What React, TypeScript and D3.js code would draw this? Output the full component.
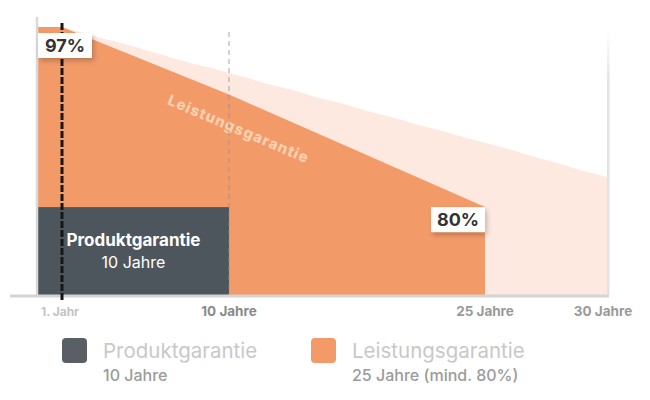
import { useEffect, useRef } from 'react'
import * as d3 from 'd3'

// years on the x axis
const years = [0, 1, 2, 3, 4, 5, 6, 7, 8, 9, 10, 11, 12, 13, 14, 15, 16, 17, 18, 19, 20, 21, 22, 23, 24, 25, 26, 27, 28, 29, 30]

// Leistungsgarantie (guaranteed output, %) for years 0..25
const warrantyValues = [97, 97, 96.3, 95.6, 94.9, 94.2, 93.5, 92.8, 92.1, 91.4, 90.7, 90.0, 89.3, 88.6, 87.9, 87.2, 86.5, 85.8, 85.1, 84.4, 83.7, 83.0, 82.3, 81.6, 80.9, 80.2]

// expected output (light area, %) for years 0..30
const expectedValues = [97, 97, 96.5, 96.0, 95.6, 95.1, 94.6, 94.1, 93.6, 93.2, 92.7, 92.3, 91.8, 91.4, 91.0, 90.5, 90.1, 89.7, 89.2, 88.8, 88.4, 87.9, 87.5, 87.1, 86.6, 86.2, 85.6, 84.9, 84.3, 83.6, 83.0]

const tickYears = [1, 10, 25, 30]
const tickLabels = ['1. Jahr', '10 Jahre', '25 Jahre', '30 Jahre']
const productYears = 10
const productLevel = 80.2

const FONT = "Inter, 'Noto Sans', sans-serif"
const ORANGE = '#f39a69'
const ORANGE_LIGHT = '#fde9df'
const SLATE = '#4e565d'

export default function App() {
  const svgRef = useRef<SVGSVGElement>(null)

  useEffect(() => {
    if (!svgRef.current) return
    d3.select(svgRef.current).selectAll('*').remove()

    const svg = d3.select(svgRef.current)

    const x = d3.scaleLinear()
      .domain([0, 1, 10, 25, 30])
      .range([38, 62, 229, 485, 607])

    const y = d3.scaleLinear()
      .domain([72, 97])
      .range([295, 27])

    const baseY = y(72)

    const defs = svg.append('defs')
    const shadow = defs.append('filter')
      .attr('id', 'shadow')
      .attr('x', '-30%').attr('y', '-30%')
      .attr('width', '160%').attr('height', '180%')
    shadow.append('feDropShadow')
      .attr('dx', 2).attr('dy', 3)
      .attr('stdDeviation', 2.5)
      .attr('flood-color', '#000')
      .attr('flood-opacity', 0.22)

    const fade = defs.append('linearGradient')
      .attr('id', 'fade')
      .attr('x1', 0).attr('y1', 0).attr('x2', 0).attr('y2', 1)
    fade.append('stop').attr('offset', '0%').attr('stop-color', '#e2e2e2').attr('stop-opacity', 0)
    fade.append('stop').attr('offset', '20%').attr('stop-color', '#e2e2e2').attr('stop-opacity', 1)
    fade.append('stop').attr('offset', '100%').attr('stop-color', '#e2e2e2').attr('stop-opacity', 1)

    const area = d3.area<number>()
      .x((_, i) => x(years[i]))
      .y0(baseY)
      .y1(d => y(d))

    // Expected output (light)
    svg.append('path')
      .datum(expectedValues)
      .attr('d', area)
      .attr('fill', ORANGE_LIGHT)

    // Leistungsgarantie
    svg.append('path')
      .datum(warrantyValues)
      .attr('d', area)
      .attr('fill', ORANGE)

    // Produktgarantie box
    svg.append('rect')
      .attr('x', x(0))
      .attr('y', y(productLevel))
      .attr('width', x(productYears) - x(0))
      .attr('height', baseY - y(productLevel))
      .attr('fill', SLATE)

    svg.append('text')
      .attr('x', (x(0) + x(productYears)) / 2)
      .attr('y', 246)
      .attr('text-anchor', 'middle')
      .attr('fill', '#fff')
      .attr('font-family', FONT)
      .attr('font-size', '17px')
      .attr('font-weight', 'bold')
      .text('Produktgarantie')

    svg.append('text')
      .attr('x', (x(0) + x(productYears)) / 2)
      .attr('y', 268)
      .attr('text-anchor', 'middle')
      .attr('fill', '#fff')
      .attr('font-family', FONT)
      .attr('font-size', '16px')
      .text('10 Jahre')

    // Rotated label
    svg.append('text')
      .attr('transform', 'translate(238,130) rotate(23)')
      .attr('text-anchor', 'middle')
      .attr('dominant-baseline', 'middle')
      .attr('fill', '#fdd1b0')
      .attr('font-family', FONT)
      .attr('font-size', '15px')
      .attr('font-weight', 800)
      .attr('letter-spacing', '1px')
      .text('Leistungsgarantie')

    // left axis line
    svg.append('line')
      .attr('x1', x(0) - 1).attr('x2', x(0) - 1)
      .attr('y1', 17).attr('y2', baseY)
      .attr('stroke', '#d9d9d9')
      .attr('stroke-width', 2.5)

    // right edge line
    svg.append('rect')
      .attr('x', x(30))
      .attr('y', 30)
      .attr('width', 2.5)
      .attr('height', baseY - 30)
      .attr('fill', 'url(#fade)')

    // 10 year dashed guide
    svg.append('line')
      .attr('x1', x(10)).attr('x2', x(10))
      .attr('y1', 32).attr('y2', baseY)
      .attr('stroke', '#8f8f8f')
      .attr('stroke-opacity', 0.4)
      .attr('stroke-width', 2)
      .attr('stroke-dasharray', '5 4')

    // baseline
    svg.append('line')
      .attr('x1', 10).attr('x2', x(30) + 2)
      .attr('y1', baseY + 1).attr('y2', baseY + 1)
      .attr('stroke', '#d4d4d4')
      .attr('stroke-width', 3)

    // 1st year dashed marker
    svg.append('line')
      .attr('x1', x(1)).attr('x2', x(1))
      .attr('y1', 23).attr('y2', baseY + 6)
      .attr('stroke', '#161616')
      .attr('stroke-width', 3)
      .attr('stroke-dasharray', '7 2')

    // value labels
    const labels = [
      { text: '97%', x: x(0), y: y(97) + 6, anchor: 'start' },
      { text: '80%', x: x(25), y: y(80.2), anchor: 'end' },
    ]
    labels.forEach(l => {
      const w = 54
      const h = 25
      const left = l.anchor === 'start' ? l.x : l.x - w
      const g = svg.append('g')
      g.append('rect')
        .attr('x', left).attr('y', l.y)
        .attr('width', w).attr('height', h)
        .attr('fill', '#fff')
        .attr('filter', 'url(#shadow)')
      g.append('text')
        .attr('x', left + w / 2)
        .attr('y', l.y + h / 2 + 6.5)
        .attr('text-anchor', 'middle')
        .attr('fill', '#333')
        .attr('font-family', FONT)
        .attr('font-size', '18px')
        .attr('font-weight', 'bold')
        .text(l.text)
    })

    // tick labels
    svg.selectAll('.tick-label')
      .data(tickYears)
      .join('text')
      .attr('class', 'tick-label')
      .attr('x', (d, i) => x(d) + (i === 0 ? -2 : i === 3 ? -4 : 0))
      .attr('y', 316)
      .attr('text-anchor', 'middle')
      .attr('fill', (d, i) => i === 0 ? '#c3c3c3' : i === 1 ? '#8a8a8a' : '#9a9a9a')
      .attr('font-family', FONT)
      .attr('font-size', (d, i) => i === 0 ? '12px' : '13.5px')
      .attr('font-weight', 'bold')
      .text((d, i) => tickLabels[i])

    // legend
    const legend = [
      { color: '#5a5f66', title: 'Produktgarantie', sub: '10 Jahre', x: 62 },
      { color: ORANGE, title: 'Leistungsgarantie', sub: '25 Jahre (mind. 80%)', x: 311 },
    ]
    legend.forEach(item => {
      svg.append('rect')
        .attr('x', item.x).attr('y', 338)
        .attr('width', 25).attr('height', 25)
        .attr('rx', 4)
        .attr('fill', item.color)
      svg.append('text')
        .attr('x', item.x + 41)
        .attr('y', 358)
        .attr('fill', '#c8c8c8')
        .attr('font-family', FONT)
        .attr('font-size', '20.5px')
        .text(item.title)
      svg.append('text')
        .attr('x', item.x + 41)
        .attr('y', 381)
        .attr('fill', '#9b9b9b')
        .attr('font-family', FONT)
        .attr('font-size', '16px')
        .attr('font-weight', 500)
        .text(item.sub)
    })
  }, [])

  return (
    <div style={{ position: 'absolute', left: 0, top: 0, width: 650, height: 400, background: '#fff' }}>
      <svg ref={svgRef} width={650} height={400} style={{ display: 'block' }}></svg>
    </div>
  )
}
